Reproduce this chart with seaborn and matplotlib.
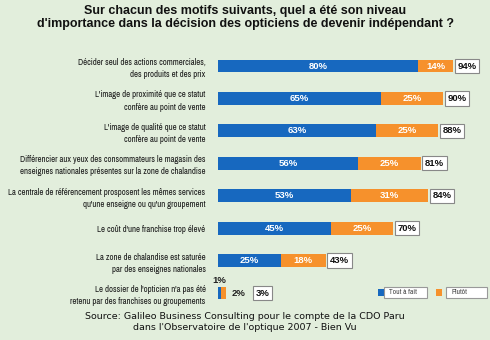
import matplotlib
matplotlib.use("Agg")
import matplotlib.pyplot as plt
import seaborn as sns
import pandas as pd
from matplotlib.patches import Rectangle

categories = [
    "Décider seul des actions commerciales,\ndes produits et des prix",
    "L'image de proximité que ce statut\nconfère au point de vente",
    "L'image de qualité que ce statut\nconfère au point de vente",
    "Différencier aux yeux des consommateurs le magasin des\nenseignes nationales présentes sur la zone de chalandise",
    "La centrale de référencement prosposent les mêmes services\nqu'une enseigne ou qu'un groupement",
    "Le coût d'une franchise trop élevé",
    "La zone de chalandise est saturée\npar des enseignes nationales",
    "Le dossier de l'opticien n'a pas été\nretenu par des franchises ou groupements",
]
tout_a_fait = [80, 65, 63, 56, 53, 45, 25, 1]
plutot = [14, 25, 25, 25, 31, 25, 18, 2]
totals = [94, 90, 88, 81, 84, 70, 43, 3]
series_names = ["Tout à fait", "Plutôt"]
title = "Sur chacun des motifs suivants, quel a été son niveau\nd'importance dans la décision des opticiens de devenir indépendant ?"
source = "Source: Galileo Business Consulting pour le compte de la CDO Paru\ndans l'Observatoire de l'optique 2007 - Bien Vu"

BLUE = "#1768bf"
ORANGE = "#f6912c"
BG = "#e2eedc"
NARROW = ["Archivo Narrow", "Barlow Semi Condensed", "DejaVu Sans"]
BOLD = ["Liberation Sans", "DejaVu Sans"]

df = pd.DataFrame({"motif": categories, "tout": tout_a_fait, "plutot": plutot, "total": totals})
df["cum"] = df["tout"] + df["plutot"]

sns.set_theme(style="white")
plt.rcParams["font.family"] = ["Liberation Sans", "DejaVu Sans"]

W, H = 490, 340
fig = plt.figure(figsize=(W / 100, H / 100), dpi=100, facecolor=BG)
x0, pxpct = 218, 2.5
ax = fig.add_axes([x0 / W, 0, 100 * pxpct / W, 1])
ax.set_facecolor("none")

sns.barplot(data=df, y="motif", x="cum", color=ORANGE, orient="h", width=0.4,
            saturation=1, ax=ax, linewidth=0)
sns.barplot(data=df, y="motif", x="tout", color=BLUE, orient="h", width=0.4,
            saturation=1, ax=ax, linewidth=0)

step = (293 - 66) / 7
ax.set_xlim(0, 100)
ax.set_ylim((H - 66) / step, -66 / step)
for s in ax.spines.values():
    s.set_visible(False)
ax.set_xlabel("")
ax.set_ylabel("")
ax.set_xticks([])
ax.tick_params(axis="y", length=0, pad=9)
for lab in ax.get_yticklabels():
    lab.set_fontsize(6.3)
    lab.set_family(NARROW)
    lab.set_color("#1a1a1a")
    lab.set_horizontalalignment("right")
    lab.set_linespacing(1.45)

n = len(categories)
for i in range(n):
    t, p, tot = tout_a_fait[i], plutot[i], totals[i]
    box = dict(boxstyle="square,pad=0.28", fc="white", ec="#888888", lw=0.8)
    if t >= 10:
        ax.text(t / 2, i, f"{t}%", color="white", ha="center", va="center",
                fontsize=6.8, fontweight="bold", family=BOLD)
        ax.text(t + p / 2, i, f"{p}%", color="white", ha="center", va="center",
                fontsize=6.8, fontweight="bold", family=BOLD)
        ax.text(t + p + 1.8, i, f"{tot}%", color="#111111", ha="left", va="center",
                fontsize=6.8, fontweight="bold", bbox=box, family=BOLD)
    else:
        ax.text(t / 2, i - 0.4, f"{t}%", color="#222222", ha="center", va="center",
                fontsize=6.8, fontweight="bold", family=BOLD)
        ax.text(t + p + 2.5, i, f"{p}%", color="#222222", ha="left", va="center",
                fontsize=6.8, fontweight="bold", family=BOLD)
        ax.text(t + p + 12, i, f"{tot}%", color="#111111", ha="left", va="center",
                fontsize=6.8, fontweight="bold", bbox=box, family=BOLD)

# legend
for (sx, bx, bw), name, col in zip([(378, 384, 43), (436, 446, 41)], series_names, [BLUE, ORANGE]):
    fig.patches.append(Rectangle((sx / W, 1 - 296 / H), 6 / W, 7 / H, transform=fig.transFigure,
                                 fc=col, ec="none"))
    fig.patches.append(Rectangle((bx / W, 1 - 298 / H), bw / W, 11 / H, transform=fig.transFigure,
                                 fc="white", ec="#999999", lw=0.8))
    fig.text((bx + 5) / W, 1 - 292.5 / H, name, fontsize=5.4, color="#444444", va="center",
             ha="left", family=NARROW)

fig.text(245 / W, 1 - 17.5 / H, title, ha="center", va="center", fontsize=9,
         fontweight="bold", color="#111111", family=BOLD, linespacing=1.15)
fig.text(245 / W, 1 - 322 / H, source, ha="center", va="center", fontsize=6.8,
         color="#111111", family=["DejaVu Sans"], linespacing=1.3)

fig.savefig("out.png", dpi=100, facecolor=BG)
